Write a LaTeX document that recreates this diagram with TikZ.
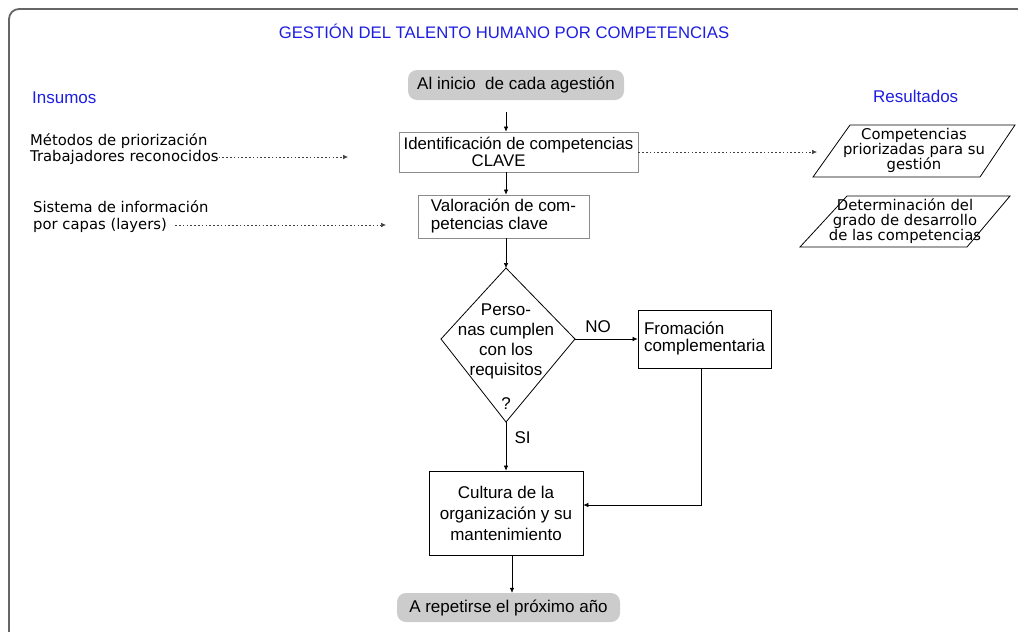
\documentclass[tikz,border=0pt]{standalone}
\usepackage{fontspec}
\setmainfont{Liberation Sans}
\newfontfamily\dejavu{DejaVu Sans}
\usetikzlibrary{calc,shapes.geometric,arrows.meta}
\definecolor{tituloazul}{RGB}{30,30,225}
\definecolor{grisfondo}{RGB}{204,204,204}

\begin{document}
\begin{tikzpicture}[x=1pt, y=-1pt,
		every node/.style={font=\fontsize{17}{18}\selectfont},
		flecha/.style={-{Latex[length=5pt,width=4.5pt]}, line width=0.6pt},
		punteada/.style={flecha, dash pattern=on 1.6pt off 2.2pt, draw=black!75},
		caja/.style={draw, line width=0.8pt, inner sep=2pt},
		cajagris/.style={caja, draw=black!45},
		redonda/.style={fill=grisfondo, rounded corners=9pt, inner sep=2pt},
		azul/.style={text=tituloazul, inner sep=0pt},
		entrada/.style={font=\dejavu\fontsize{14.8}{16}\selectfont, inner sep=0pt, anchor=west},
		salida/.style={font=\dejavu\fontsize{14.8}{15}\selectfont, align=center, inner sep=0pt}]
		%%%%% START %%%%%
		
		\useasboundingbox (0,0) rectangle (1018,632);
		\clip (0,0) rectangle (1018,632);
		\draw[line width=1.8pt, color=black!60, rounded corners=10pt] (9,9) rectangle (1040,660);
		
		\node[azul, font=\fontsize{16.7}{18}\selectfont] (titulo) at (504,31) {GESTIÓN DEL TALENTO HUMANO POR COMPETENCIAS};
		\node[azul, anchor=west] (insumos) at (32,98) {Insumos};
		\node[azul, anchor=west] (resultados) at (873,96) {Resultados};
		
		% columna central
		\node[redonda, minimum width=216pt, minimum height=30pt] (inicio) at (516,85) {Al inicio \ de cada agestión};
		\node[cajagris, minimum width=239pt, minimum height=40pt, align=left,
			font=\fontsize{16.8}{17}\selectfont] (ident) at (518.5,152)
			{Identificación de competencias\\\hspace*{68pt}CLAVE};
		\node[cajagris, minimum width=171pt, minimum height=43pt, align=left,
			font=\fontsize{17}{18}\selectfont] (valor) at (503.5,216.5)
			{Valoración de com-\\petencias clave};
		% rombo de decision
		\coordinate (decN) at (506,268);
		\coordinate (decE) at (575,339);
		\coordinate (decS) at (506,422);
		\coordinate (decW) at (441,339);
		\draw[line width=0.8pt] (decN) -- (decE) -- (decS) -- (decW) -- cycle;
		\node[align=center, font=\fontsize{17}{20}\selectfont] (dectexto) at (506,341)
			{Perso-\\nas cumplen\\con los\\requisitos};
		\node (pregunta) at (506,404) {?};
		\node[caja, minimum width=133pt, minimum height=58pt, align=left,
			font=\fontsize{17}{17}\selectfont] (fro) at (704.5,339)
			{Fromación\\complementaria};
		\node[caja, minimum width=154pt, minimum height=84pt, align=center,
			font=\fontsize{17}{21}\selectfont] (cult) at (506,513)
			{Cultura de la\\organización y su\\mantenimiento};
		\node[redonda, minimum width=223pt, minimum height=29pt] (rep) at (508.5,607.5)
			{A repetirse el próximo año};
		
		\draw[flecha, shorten <=12pt] (inicio.south -| decN) -- (ident.north -| decN);
		\draw[flecha] (ident.south -| decN) -- (valor.north -| decN);
		\draw[flecha] (valor.south -| decN) -- (decN);
		\draw[flecha] (decE) -- node[above=3pt, pos=0.37] (no) {NO} (decE -| fro.west);
		\draw[flecha] (decS) -- node[right=5pt, pos=0.32] (si) {SI} (cult.north);
		\draw[flecha] ($(fro.south)+(-3.5,0)$) |- ($(cult.east)+(0,-8)$);
		\draw[flecha] ($(cult.south)+(6,0)$) -- ($(rep.north)+(3.5,0)$);
		
		% insumos
		\node[entrada] (met1) at (30,141) {Métodos de priorización};
		\node[entrada] (met2) at (30,157) {Trabajadores reconocidos};
		\node[entrada] (sis1) at (33,207) {Sistema de información};
		\node[entrada] (sis2) at (33,225) {por capas (layers)};
		\coordinate (fin1) at (348,157);
		\coordinate (fin2) at (386,225);
		\draw[punteada] (met2.east) -- (fin1);
		\draw[punteada, shorten <=8pt] (sis2.east) -- (fin2);
		
		% resultados
		\coordinate (fin3) at (817,152);
		\draw[punteada] (ident.east) -- (fin3);
		\draw[line width=0.8pt] (850,125) -- (1015,125) -- (980,177) -- (813,177) -- cycle;
		\node[salida] (res1) at (914,150) {Competencias\\priorizadas para su\\gestión};
		\draw[line width=0.8pt] (847,196) -- (1010,196) -- (967,247) -- (800,247) -- cycle;
		\node[salida] (res2) at (905,221) {Determinación del\\grado de desarrollo\\de las competencias};
		
		%%%%% END %%%%%
\end{tikzpicture}
\end{document}
